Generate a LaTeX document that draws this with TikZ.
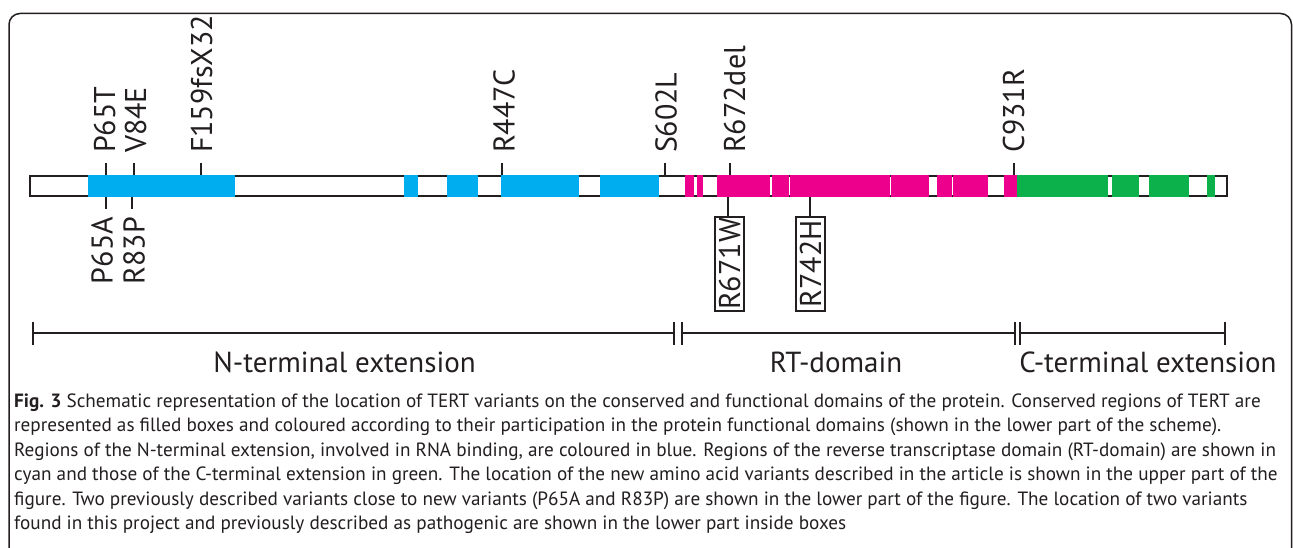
\documentclass[tikz,border=0pt]{standalone}
\usepackage{fontspec}
\setmainfont{PT Sans}
\definecolor{nblue}{HTML}{00AEEF}
\definecolor{rtmag}{HTML}{EC008C}
\definecolor{cgreen}{HTML}{0DB14B}
\definecolor{ink}{HTML}{231F20}
\tikzset{
  lab/.style={rotate=90, inner sep=0pt, outer sep=0pt, text=ink, font=\fontsize{30}{36}\selectfont},
  uplab/.style={lab, anchor=base west},
  dnlab/.style={lab, anchor=base east},
  boxlab/.style={rotate=90, draw=ink, line width=2pt, inner sep=0pt, minimum width=94pt, minimum height=29pt,
     text height=21pt, text depth=0pt, text=ink, font=\fontsize{30}{36}\selectfont},
  tickln/.style={draw=ink, line width=2.5pt},
  dline/.style={draw=ink, line width=2.2pt},
  domlab/.style={anchor=base, inner sep=0pt, text=ink, font=\fontsize{29}{34}\selectfont},
  captxt/.style={anchor=base west, inner sep=0pt, text=ink, font=\fontsize{19.2}{23}\selectfont},
}
\begin{document}
\begin{tikzpicture}[x=1pt, y=-1pt]
\useasboundingbox (0,0) rectangle (1293,548);
\fill[white] (0,0) rectangle (1293,548);
\clip (0,0) rectangle (1293,548);
% frame
\draw[ink, line width=1.5pt, rounded corners=11pt] (9,570) -- (9,13.5) -- (1291.5,13.5) -- (1291.5,570);
% bar outline
\draw[ink, line width=2.2pt] (30.1,176.1) rectangle (1226.9,195.9);
% conserved regions
\foreach \a/\b in {88/235, 404/418, 447/478, 501/579, 600/659}
  \fill[nblue] (\a,175) rectangle (\b,197);
\foreach \a/\b in {685/694, 697/702.5, 717/770, 772/789.2, 789.8/890.2, 890.8/929, 937/952.2, 952.8/988, 1004/1017}
  \fill[rtmag] (\a,175) rectangle (\b,197);
\foreach \a/\b in {1017/1108, 1112/1139, 1149/1189, 1207/1215}
  \fill[cgreen] (\a,175) rectangle (\b,197);
% upper labels
\node[uplab] (p65t) at (115,153) {P65T};
\node[uplab] (v84e) at (146,153) {V84E};
\node[uplab] (f159) at (212,153) {F159fsX32};
\node[uplab] (r447c) at (514.5,153) {R447C};
\node[uplab] (s602l) at (676.5,153) {S602L};
\node[uplab] (r672del) at (745,153) {R672del};
\node[uplab] (c931r) at (1024,153) {C931R};
\draw[tickln] (106,163) -- (106,175);
\draw[tickln] (134,163) -- (134,175);
\draw[tickln] (201,163) -- (201,175);
\draw[tickln] (502,163) -- (502,175);
\draw[tickln] (665,163) -- (665,175);
\draw[tickln] (730,163) -- (730,175);
\draw[tickln] (1014,163) -- (1014,175);
% lower labels
\node[dnlab] (p65a) at (112.5,217) {P65A};
\node[dnlab] (r83p) at (144.5,217) {R83P};
\node[boxlab] (r671w) at (729.5,264) {R671W};
\node[boxlab] (r742h) at (810.5,264) {R742H};
\coordinate (t671) at (728,197);
\coordinate (t742) at (810,197);
\draw[tickln] (106,197) -- (106,209);
\draw[tickln] (132,197) -- (132,209);
\draw[tickln] (t671) -- (t671 |- r671w.east);
\draw[tickln] (t742) -- (t742 |- r742h.east);
% domains
\coordinate (d0) at (33,333);
\coordinate (d1a) at (674,333);
\coordinate (d1b) at (682,333);
\coordinate (d2a) at (1015,333);
\coordinate (d2b) at (1020,333);
\coordinate (d3) at (1225,333);
\draw[dline] (d0) -- (d1a);
\draw[dline] (d1b) -- (d2a);
\draw[dline] (d2b) -- (d3);
\foreach \c in {d0,d1a,d1b,d2a,d2b,d3}
  \draw[dline] ([yshift=-11.5pt]\c) -- ([yshift=11.5pt]\c);
\node[domlab] (nterm) at (344.5,372) {N-terminal extension};
\node[domlab] (rtdom) at (836,372) {RT-domain};
\node[domlab] (cterm) at (1148,372) {C-terminal extension};
% caption
\node[captxt] (c1) at (14,407) {\textbf{Fig. 3} Schematic representation of the location of TERT variants on the conserved and functional domains of the protein. Conserved regions of TERT are};
\node[captxt] (c2) at (14,431.5) {represented as filled boxes and coloured according to their participation in the protein functional domains (shown in the lower part of the scheme).};
\node[captxt] (c3) at (14,456) {Regions of the N-terminal extension, involved in RNA binding, are coloured in blue. Regions of the reverse transcriptase domain (RT-domain) are shown in};
\node[captxt] (c4) at (14,480.5) {cyan and those of the C-terminal extension in green. The location of the new amino acid variants described in the article is shown in the upper part of the};
\node[captxt] (c5) at (14,505) {figure. Two previously described variants close to new variants (P65A and R83P) are shown in the lower part of the figure. The location of two variants};
\node[captxt] (c6) at (14,529.5) {found in this project and previously described as pathogenic are shown in the lower part inside boxes};
\end{tikzpicture}
\end{document}
